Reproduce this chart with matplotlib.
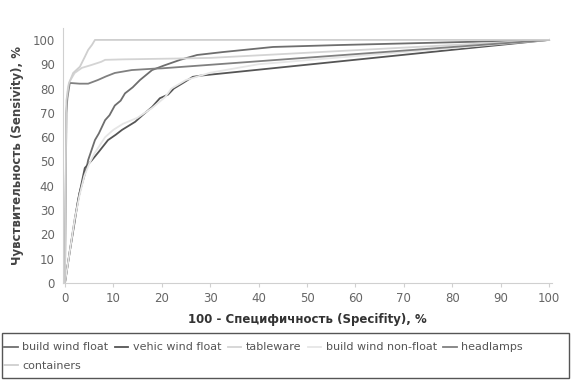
import matplotlib.pyplot as plt
from matplotlib.patches import Rectangle

# ROC curves, values (x = 100 - specificity, y = sensitivity)
bwf_x = [0, 1, 2, 3, 4, 4.5, 4.8, 6.2, 7, 8.3, 9.2, 10.3, 11.5, 12.4, 14, 15.5, 18, 20.5, 23.8, 27.3, 32.6, 43, 56.8, 100]
bwf_y = [0, 13, 26, 37, 44, 47.7, 50.6, 58.8, 61.5, 67, 69, 73, 75, 78, 80.5, 83.5, 87.6, 89.5, 91.8, 93.8, 95, 97.1, 97.9, 100]

vwf_x = [0, 1, 2, 2.7, 4.1, 5.6, 7, 8.9, 10.5, 11.8, 14.5, 16, 18, 19.6, 21.3, 22.5, 24.4, 26.4, 28, 100]
vwf_y = [0, 13, 25, 34, 47.3, 50.6, 54, 58.8, 61, 63, 66.3, 69, 72.4, 76, 77.5, 80, 82.3, 84.8, 85.3, 100]

tab_x = [0, 0.3, 0.6, 1, 2, 3.5, 5.5, 7.5, 8.3, 12, 18.6, 25, 30, 100]
tab_y = [0, 70, 80, 83, 86.4, 88.5, 89.7, 91, 91.8, 92, 92.2, 92.4, 92.6, 100]

bwnf_x = [0, 1, 2, 3, 4, 5, 6, 8.3, 10, 12, 15, 18, 20.7, 22, 25, 30, 40, 100]
bwnf_y = [0, 13, 26, 36, 44, 49, 53, 60, 63, 65.5, 68, 72, 76.5, 80, 83.5, 86.5, 90, 100]

head_x = [0, 0.3, 0.5, 1, 3, 4.8, 6.8, 8.5, 10.3, 13.8, 18.6, 20, 100]
head_y = [0, 70, 76, 82.3, 82, 82, 83.5, 85, 86.4, 87.6, 88.2, 88.3, 100]

cont_x = [0, 0.3, 0.8, 1.7, 3.1, 4.1, 4.8, 5.6, 6.2, 100]
cont_y = [0, 75, 82, 86.4, 89, 93, 95.9, 98, 100, 100]

labels = ['build wind float', 'vehic wind float', 'tableware',
          'build wind non-float', 'headlamps', 'containers']
colors = ['#6e6e6e', '#555555', '#d4d4d4', '#e6e6e6', '#808080', '#cfcfcf']
curves = [(bwf_x, bwf_y), (vwf_x, vwf_y), (tab_x, tab_y),
          (bwnf_x, bwnf_y), (head_x, head_y), (cont_x, cont_y)]

fig = plt.figure(figsize=(5.72, 3.81), dpi=100)
ax = fig.add_axes([63 / 572, 1 - 283 / 381, 489 / 572, 255 / 381])

handles = []
for (xs, ys), c, lab in zip(curves, colors, labels):
    h, = ax.plot(xs, ys, color=c, lw=1.3, label=lab)
    handles.append(h)

ax.set_xlim(-0.4, 100.6)
ax.set_ylim(0, 104.9)
ax.set_xticks(range(0, 101, 10))
ax.set_yticks(range(0, 101, 10))
for s in ['top', 'right']:
    ax.spines[s].set_visible(False)
for s in ['left', 'bottom']:
    ax.spines[s].set_color('#d0d0d0')
ax.tick_params(axis='x', colors='#d0d0d0', length=3, labelcolor='#666666', labelsize=8.5)
ax.tick_params(axis='y', length=0, labelcolor='#666666', labelsize=8.5, pad=6)

ax.set_xlabel('100 - Специфичность (Specifity), %', fontsize=8.5, fontweight='bold',
              color='#333333', labelpad=6)
ax.set_ylabel('Чувствительность (Sensivity), %', fontsize=8.5, fontweight='bold',
              color='#444444', labelpad=6)

# legend box spanning the figure width
fig.patches.append(Rectangle((2 / 572, 3 / 381), 567 / 572, 45 / 381,
                             transform=fig.transFigure, fill=False,
                             edgecolor='#555555', lw=1))
order = [0, 5, 1, 2, 3, 4]
fig.legend([handles[i] for i in order], [labels[i] for i in order],
           ncol=5, frameon=False, loc='upper left',
           bbox_to_anchor=(0 / 572, 1 - 338 / 381),
           fontsize=8, labelcolor='#555555', handlelength=1.2,
           handletextpad=0.4, columnspacing=0.6, borderaxespad=0,
           labelspacing=0.75)

fig.savefig('out.png', dpi=100)
